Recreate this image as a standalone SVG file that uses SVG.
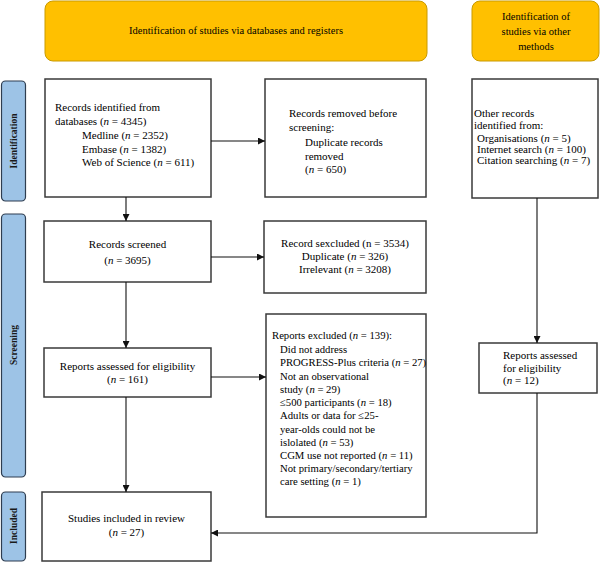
<svg xmlns="http://www.w3.org/2000/svg" width="600" height="562" viewBox="0 0 600 562">
<defs>
<marker id="ah" viewBox="0 0 10 10" refX="10" refY="5" markerWidth="7" markerHeight="7" markerUnits="userSpaceOnUse" orient="auto">
<path d="M0,0 L10,5 L0,10 z" fill="#111"/>
</marker>
<style>
.hdr{fill:#FFC000;stroke:#C99A00;stroke-width:1}
.side{fill:#9DC3E6;stroke:#2E3D50;stroke-width:1.2}
.box{fill:#fff;stroke:#3a3a3a;stroke-width:1.5}
text{font-family:"Liberation Serif","Times New Roman",serif;font-size:11px;fill:#000}
.c{text-anchor:middle}
.sl{font-size:9.5px;font-weight:bold;text-anchor:middle;fill:#1a1a1a}
.hl{font-size:10.5px}
.sm{font-size:10.7px}
.con{fill:none;stroke:#111;stroke-width:1.1}
</style>
</defs>
<rect width="600" height="562" fill="#fff"/>

<g id="header-databases">
<rect class="hdr" x="45" y="1" width="382" height="60" rx="8"/>
<text class="c hl" x="236" y="34">Identification of studies via databases and registers</text>
</g>
<g id="header-other">
<rect class="hdr" x="472" y="1" width="127" height="60" rx="8"/>
<text class="c hl" x="536" y="20">Identification of</text>
<text class="c hl" x="536" y="35">studies via other</text>
<text class="c hl" x="536" y="50">methods</text>
</g>

<g id="label-identification">
<rect class="side" x="1.5" y="81" width="24" height="120" rx="4"/>
<text class="sl" transform="translate(16.5,141) rotate(-90)">Identification</text>
</g>
<g id="label-screening">
<rect class="side" x="1.5" y="214" width="24" height="263" rx="4"/>
<text class="sl" transform="translate(16.5,345) rotate(-90)">Screening</text>
</g>
<g id="label-included">
<rect class="side" x="1.5" y="492" width="24" height="69" rx="4"/>
<text class="sl" transform="translate(16.5,526) rotate(-90)">Included</text>
</g>

<g id="records-identified">
<rect class="box" x="45" y="79" width="166" height="118"/>
<text x="55" y="111">Records identified from</text>
<text x="55" y="125">databases (<tspan font-style="italic">n</tspan> = 4345)</text>
<text x="82" y="139">Medline (<tspan font-style="italic">n</tspan> = 2352)</text>
<text x="82" y="152.5">Embase (<tspan font-style="italic">n</tspan> = 1382)</text>
<text x="82" y="166">Web of Science (<tspan font-style="italic">n</tspan> = 611)</text>
</g>

<g id="records-removed">
<rect class="box" x="265" y="79" width="161" height="118"/>
<text x="289" y="117">Records removed before</text>
<text x="289" y="131">screening:</text>
<text x="305" y="146">Duplicate records</text>
<text x="305" y="160">removed</text>
<text x="305" y="173">(<tspan font-style="italic">n</tspan> = 650)</text>
</g>

<g id="other-records">
<rect class="box" x="472" y="79" width="126" height="119"/>
<text x="474" y="117">Other records</text>
<text x="474" y="128.5">identified from:</text>
<text x="477" y="142">Organisations (<tspan font-style="italic">n</tspan> = 5)</text>
<text x="477" y="153">Internet search (<tspan font-style="italic">n</tspan> = 100)</text>
<text x="477" y="164">Citation searching (<tspan font-style="italic">n</tspan> = 7)</text>
</g>

<g id="records-screened">
<rect class="box" x="44" y="221" width="167" height="61"/>
<text class="c" x="127.5" y="248">Records screened</text>
<text class="c" x="127.5" y="264">(<tspan font-style="italic">n</tspan> = 3695)</text>
</g>

<g id="records-excluded">
<rect class="box" x="264" y="221" width="162" height="72"/>
<text class="c" x="345" y="247">Record sexcluded (n = 3534)</text>
<text class="c" x="345" y="260">Duplicate (<tspan font-style="italic">n</tspan> = 326)</text>
<text class="c" x="345" y="273">Irrelevant (<tspan font-style="italic">n</tspan> = 3208)</text>
</g>

<g id="reports-assessed">
<rect class="box" x="44" y="348" width="167" height="49"/>
<text class="c" x="127.5" y="370">Reports assessed for eligibility</text>
<text class="c" x="127.5" y="383">(<tspan font-style="italic">n</tspan> = 161)</text>
</g>

<g id="reports-excluded">
<rect class="box" x="266" y="314" width="160" height="203"/>
<text class="sm" x="272" y="339">Reports excluded (<tspan font-style="italic">n</tspan> = 139):</text>
<text class="sm" x="280" y="352.5">Did not address</text>
<text class="sm" x="280" y="366">PROGRESS-Plus criteria (<tspan font-style="italic">n</tspan> = 27)</text>
<text class="sm" x="280" y="379.5">Not an observational</text>
<text class="sm" x="280" y="392.5">study (<tspan font-style="italic">n</tspan> = 29)</text>
<text class="sm" x="280" y="406">≤500 participants (<tspan font-style="italic">n</tspan> = 18)</text>
<text class="sm" x="280" y="419">Adults or data for ≤25-</text>
<text class="sm" x="280" y="432.5">year-olds could not be</text>
<text class="sm" x="280" y="445.5">islolated (<tspan font-style="italic">n</tspan> = 53)</text>
<text class="sm" x="280" y="458.5">CGM use not reported (<tspan font-style="italic">n</tspan> = 11)</text>
<text class="sm" x="280" y="472">Not primary/secondary/tertiary</text>
<text class="sm" x="280" y="485">care setting (<tspan font-style="italic">n</tspan> = 1)</text>
</g>

<g id="reports-assessed-other">
<rect class="box" x="479" y="343" width="118" height="50"/>
<text x="503" y="359">Reports assessed</text>
<text x="503" y="371.5">for eligibility</text>
<text x="503" y="384">(<tspan font-style="italic">n</tspan> = 12)</text>
</g>

<g id="studies-included">
<rect class="box" x="42" y="492" width="169" height="69"/>
<text class="c" x="126.5" y="522">Studies included in review</text>
<text class="c" x="126.5" y="536">(<tspan font-style="italic">n</tspan> = 27)</text>
</g>

<g id="connectors">
<path class="con" d="M126,197 V221" marker-end="url(#ah)"/>
<path class="con" d="M211,141 H265" marker-end="url(#ah)"/>
<path class="con" d="M211,257 H264" marker-end="url(#ah)"/>
<path class="con" d="M126,282 V348" marker-end="url(#ah)"/>
<path class="con" d="M211,377 H266" marker-end="url(#ah)"/>
<path class="con" d="M126,397 V492" marker-end="url(#ah)"/>
<path class="con" d="M537,198 V343" marker-end="url(#ah)"/>
<path class="con" d="M537,393 V533 H211" marker-end="url(#ah)"/>
</g>
</svg>
